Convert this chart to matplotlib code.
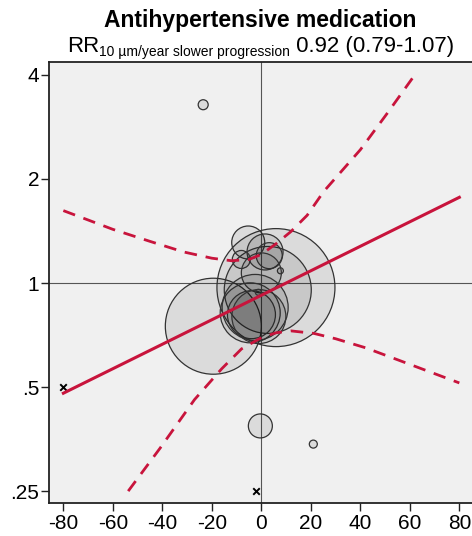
import numpy as np
import matplotlib
matplotlib.use("Agg")
import matplotlib.pyplot as plt

plt.rcParams['font.family'] = ['Liberation Sans', 'DejaVu Sans']
plt.rcParams['axes.unicode_minus'] = False

# study bubbles: slope difference (x), relative risk (y), bubble radius in px
study_x = [-23.5, -0.4, 21.0, -19.4, 5.9, 2.6, -5.3, 1.5, 3.2, -8.1, 7.7, 0.0,
           -4.5, -4.0, -2.5, -1.0, -1.2]
study_rr = [3.28, 0.386, 0.342, 0.75, 0.97, 0.955, 1.31, 1.23, 1.20, 1.17, 1.085, 1.07,
            0.82, 0.81, 0.85, 0.80, 0.94]
study_r = [5, 12, 4, 48, 59, 43.5, 16.5, 18, 13, 9, 3, 20,
           30, 24, 33, 27, 3]

# studies without weight (crosses)
cross_x = [-80, -2]
cross_rr = [0.5, 0.25]

# fitted meta-regression line
fit_x = [-80, 80]
fit_rr = [0.48, 1.77]

# confidence band
upper_x = [-80, -60, -45, -31.4, -20, -12, -5, 0, 6, 12, 18.5, 25.2, 40, 50.9, 61]
upper_rr = [1.62, 1.43, 1.32, 1.23, 1.18, 1.16, 1.17, 1.21, 1.30, 1.41, 1.57, 1.84, 2.43, 3.1, 3.91]
lower_x = [-53.8, -40.9, -27, -16, -8, 0, 6, 12, 21.2, 30, 42, 55, 80]
lower_rr = [0.25, 0.333, 0.46, 0.565, 0.645, 0.695, 0.718, 0.727, 0.715, 0.69, 0.65, 0.6, 0.514]

yticks = [0.25, 0.5, 1, 2, 4]
ytick_labels = ['.25', '.5', '1', '2', '4']
xticks = [-80, -60, -40, -20, 0, 20, 40, 60, 80]

red = '#c8143c'

fig = plt.figure(figsize=(4.72, 5.36), dpi=100)
ax = fig.add_axes([49/472, 1-503/536, 1-49/472 + 0.002, (503-62)/536])
ax.set_facecolor('#f0f0f0')

ax.axvline(0, color='#555555', lw=0.8, zorder=1)
ax.axhline(1, color='#555555', lw=0.8, zorder=1)

sizes = [(1.44*r)**2 for r in study_r]
ax.scatter(study_x, study_rr, s=sizes, facecolors=(0, 0, 0, 0.085),
           edgecolors='#333333', linewidths=0.9, zorder=2)
ax.scatter(cross_x, cross_rr, marker='x', s=22, color='black', linewidths=1.4, zorder=3)

ax.plot(fit_x, fit_rr, color=red, lw=2.2, zorder=4)
l1, = ax.plot(upper_x, upper_rr, color=red, lw=2.0, zorder=4)
l2, = ax.plot(lower_x, lower_rr, color=red, lw=2.0, zorder=4)
for l in (l1, l2):
    l.set_dashes((4.5, 3.2))

ax.set_yscale('log')
ax.set_xlim(-85.8, 85.5)
ax.set_ylim(0.231, 4.36)
ax.set_yticks(yticks)
ax.set_yticklabels(ytick_labels)
ax.minorticks_off()
ax.set_xticks(xticks)
ax.tick_params(axis='both', labelsize=15, length=6, width=1, color='#222222', pad=2)
ax.tick_params(axis='y', pad=1)
for sp in ax.spines.values():
    sp.set_linewidth(1.3)
    sp.set_color('#222222')

# titles
cx = (49 + 472) / 2 / 472
fig.text(cx, 1 - 27/536, 'Antihypertensive medication', ha='center', va='baseline',
         fontsize=16.5, fontweight='bold')

parts = [('RR', 16, 0), ('10 \u00b5m/year slower progression', 10, -4), (' 0.92 (0.79-1.07)', 16, 0)]
fig.canvas.draw()
r = fig.canvas.get_renderer()
texts = []
for s, fs, dy in parts:
    t = fig.text(0, 0, s, fontsize=fs, va='baseline', ha='left')
    texts.append((t, dy))
widths = [t.get_window_extent(r).width for t, _ in texts]
total = sum(widths)
x0 = cx * 472 - total / 2
base = 536 - 52
for (t, dy), w in zip(texts, widths):
    t.set_position((x0 / 472, (base + dy) / 536))
    x0 += w

fig.savefig('out.png', dpi=100)
